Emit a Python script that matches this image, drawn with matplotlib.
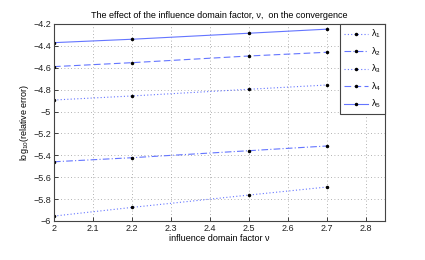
import matplotlib
matplotlib.use("Agg")
import matplotlib.pyplot as plt

x = [2.0, 2.2, 2.5, 2.7]
lam1 = [-5.955, -5.876, -5.763, -5.690]
lam2 = [-5.459, -5.422, -5.358, -5.315]
lam3 = [-4.895, -4.858, -4.797, -4.758]
lam4 = [-4.590, -4.554, -4.493, -4.459]
lam5 = [-4.371, -4.340, -4.285, -4.248]
series = [lam1, lam2, lam3, lam4, lam5]
labels = [r"$\lambda_1$", r"$\lambda_2$", r"$\lambda_3$", r"$\lambda_4$", r"$\lambda_5$"]
styles = [(0, (1, 2)), (0, (6, 2, 1, 2)), (0, (1, 2)), (0, (6, 3)), "-"]

xticks = [2, 2.1, 2.2, 2.3, 2.4, 2.5, 2.6, 2.7, 2.8]
yticks = [-6, -5.8, -5.6, -5.4, -5.2, -5, -4.8, -4.6, -4.4, -4.2]

plt.rcParams['font.family'] = ['Liberation Sans', 'DejaVu Sans']
plt.rcParams['mathtext.fontset'] = 'custom'
plt.rcParams['mathtext.rm'] = 'Liberation Sans'
plt.rcParams['mathtext.it'] = 'Liberation Sans'

fig = plt.figure(figsize=(4.25, 2.6), dpi=100)
ax = fig.add_axes([0.127, 0.15, 0.779, 0.758])

color = '#6475ff'
for s, lab, ls in zip(series, labels, styles):
    ax.plot(x, s, color=color, linestyle=ls, linewidth=0.8, marker='.',
            markersize=3, markerfacecolor='black', markeredgecolor='black', label=lab)

ax.set_xlim(2, 2.85)
ax.set_ylim(-6, -4.2)
ax.set_xticks(xticks)
ax.set_xticklabels([("%g" % v) for v in xticks])
ax.set_yticks(yticks)
ax.set_yticklabels([("%g" % v).replace('-', '\u2212') for v in yticks])
ax.tick_params(direction='in', length=3, width=0.6, labelsize=6.5, colors='#222222', pad=2)
ax.grid(True, linestyle=(0, (1, 3)), color='#999999', linewidth=0.6)
for sp in ax.spines.values():
    sp.set_color('#444444')
    sp.set_linewidth(0.8)

ax.set_title("The effect of the influence domain factor, \u03bd,  on the convergence",
             fontsize=6.5, pad=4)
ax.set_xlabel("influence domain factor \u03bd", fontsize=6.5, labelpad=1)
ax.set_ylabel(r"log$_{10}$(relative error)", fontsize=6.5, labelpad=2)

leg = ax.legend(loc='upper right', bbox_to_anchor=(1, 1), borderaxespad=0,
                fancybox=False, framealpha=1, edgecolor='#444444', fontsize=6.5,
                handlelength=2.7, labelspacing=0.55, borderpad=0.45, handletextpad=0.3)
leg.get_frame().set_linewidth(0.8)

fig.savefig("out.png", dpi=100)
